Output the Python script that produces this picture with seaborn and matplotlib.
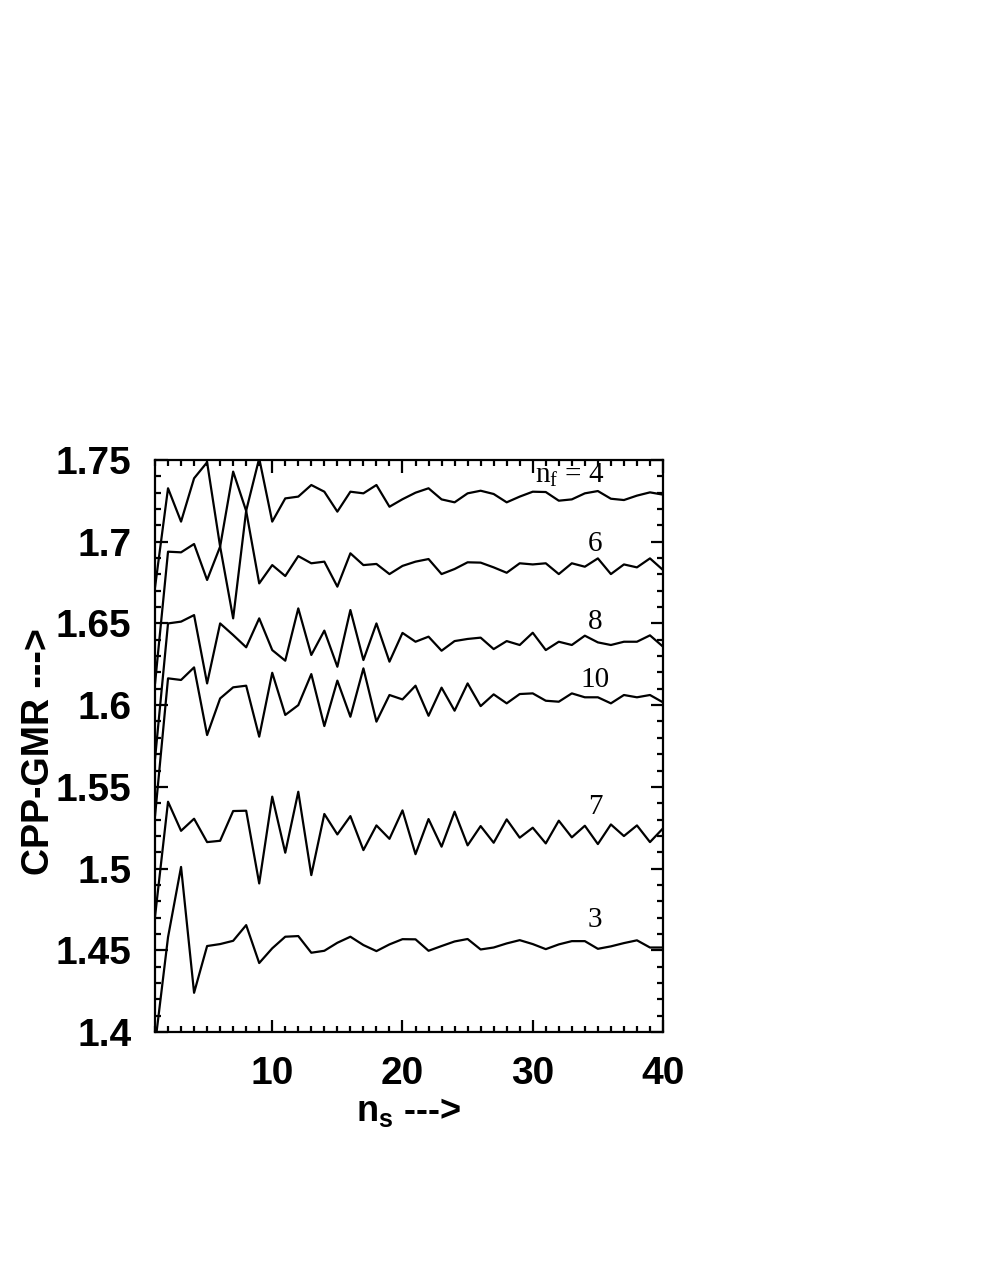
# -*- coding: utf-8 -*-

import matplotlib
matplotlib.use('Agg')
import matplotlib.pyplot as plt
from matplotlib.ticker import MultipleLocator, FormatStrFormatter
import seaborn as sn
import pandas as pd
import numpy as np

ns = list(range(1, 41))

gmr_nf4 = [1.672, 1.7327, 1.7123, 1.7388, 1.7486, 1.697, 1.6531, 1.719, 1.751, 1.7123,
           1.7265, 1.7276, 1.7347, 1.7306, 1.7184, 1.7306, 1.7296, 1.7347, 1.7214, 1.726,
           1.73, 1.7327, 1.7259, 1.7241, 1.7296, 1.7312, 1.7292, 1.7241, 1.7276, 1.7306,
           1.7304, 1.7251, 1.7259, 1.7296, 1.731, 1.7263, 1.7255, 1.7282, 1.7302, 1.7288]
gmr_nf6 = [1.613, 1.6939, 1.6935, 1.6986, 1.6766, 1.697, 1.7429, 1.7188, 1.6745, 1.6857,
           1.679, 1.6912, 1.6868, 1.6878, 1.6725, 1.6929, 1.6857, 1.6864, 1.6802, 1.6852,
           1.6878, 1.6894, 1.6802, 1.6833, 1.6874, 1.6872, 1.6843, 1.681, 1.6868, 1.6861,
           1.6868, 1.6802, 1.6868, 1.6847, 1.6898, 1.6802, 1.6861, 1.6843, 1.6898, 1.6827]
gmr_nf8 = [1.567, 1.65, 1.6511, 1.6551, 1.6133, 1.65, 1.6429, 1.6354, 1.6531, 1.6337,
           1.6272, 1.6592, 1.6307, 1.6456, 1.6235, 1.6582, 1.6276, 1.65, 1.6266, 1.6442,
           1.6388, 1.6419, 1.6333, 1.6392, 1.6405, 1.6413, 1.6343, 1.6392, 1.6368, 1.6443,
           1.6337, 1.6388, 1.6368, 1.6425, 1.6384, 1.6368, 1.6388, 1.6388, 1.6427, 1.6358]
gmr_nf10 = [1.532, 1.6164, 1.6154, 1.6231, 1.5817, 1.6041, 1.6109, 1.6119, 1.5807, 1.6198,
            1.594, 1.60, 1.619, 1.5872, 1.615, 1.5929, 1.6225, 1.5899, 1.6062, 1.6035,
            1.6119, 1.5935, 1.6107, 1.5966, 1.6133, 1.5994, 1.6066, 1.6011, 1.6068, 1.6072,
            1.6027, 1.6021, 1.6072, 1.6048, 1.6048, 1.6011, 1.6062, 1.6048, 1.6062, 1.6017]
gmr_nf7 = [1.4705, 1.5409, 1.5231, 1.5305, 1.5162, 1.517, 1.5352, 1.5354, 1.4909, 1.544,
           1.5097, 1.547, 1.496, 1.5334, 1.5209, 1.5321, 1.5113, 1.5264, 1.5182, 1.5356,
           1.5088, 1.5303, 1.5134, 1.5348, 1.5142, 1.526, 1.5158, 1.5301, 1.5189, 1.525,
           1.5154, 1.5293, 1.5191, 1.5262, 1.515, 1.527, 1.5199, 1.5264, 1.5162, 1.5246]
gmr_nf3 = [1.392, 1.458, 1.501, 1.424, 1.4526, 1.4538, 1.4558, 1.4654, 1.4422, 1.4512,
           1.4583, 1.4587, 1.4485, 1.4497, 1.4546, 1.4583, 1.4532, 1.4495, 1.4536, 1.4568,
           1.4567, 1.4497, 1.4526, 1.4554, 1.4569, 1.4505, 1.4517, 1.4542, 1.4562, 1.4538,
           1.4507, 1.4536, 1.4556, 1.4556, 1.4509, 1.4524, 1.4544, 1.4561, 1.4517, 1.4517]

curve_labels = ['$\\mathregular{n_f}$ = 4', '6', '8', '10', '7', '3']
curves = [gmr_nf4, gmr_nf6, gmr_nf8, gmr_nf10, gmr_nf7, gmr_nf3]
label_pos = [(32.8, 1.7408), (34.8, 1.6984), (34.8, 1.651),
             (34.8, 1.6154), (34.8, 1.5378), (34.8, 1.4685)]

sn.set_style('ticks', rc={'axes.edgecolor': 'black', 'text.color': 'black',
                          'axes.labelcolor': 'black', 'xtick.color': 'black',
                          'ytick.color': 'black'})
plt.rcParams['font.family'] = ['Liberation Sans', 'DejaVu Sans']
plt.rcParams['font.weight'] = 'bold'
plt.rcParams['mathtext.default'] = 'regular'
plt.rcParams['axes.linewidth'] = 1.6

fig = plt.figure(figsize=(9.81, 12.69), dpi=100)
ax = fig.add_axes([155/981, 1 - 1032/1269, 508/981, 572/1269])

for vals in curves:
    sn.lineplot(x=ns, y=vals, color='black', linewidth=1.6, ax=ax)

for lab, (x, y) in zip(curve_labels, label_pos):
    ax.text(x, y, lab, ha='center', va='center', fontsize=21, color='black',
            family=['Liberation Serif', 'DejaVu Serif'], weight='normal')

ax.set_xlim(1, 40)
ax.set_ylim(1.4, 1.75)
ax.xaxis.set_major_locator(MultipleLocator(10))
ax.xaxis.set_minor_locator(MultipleLocator(1))
ax.yaxis.set_major_locator(MultipleLocator(0.05))
ax.yaxis.set_minor_locator(MultipleLocator(0.01))
ax.yaxis.set_major_formatter(FormatStrFormatter('%g'))
ax.tick_params(which='both', direction='in', top=True, right=True,
               width=1.6, color='black', labelcolor='black')
ax.tick_params(which='major', length=9, labelsize=28, pad=17)
ax.tick_params(which='minor', length=4.5)
for lab in ax.get_xticklabels() + ax.get_yticklabels():
    lab.set_fontweight('bold')

ax.set_xlabel('n$_s$ --->', fontsize=26, fontweight='bold', labelpad=2)
ax.set_ylabel('CPP-GMR --->', fontsize=27, fontweight='bold')
ax.yaxis.set_label_coords(-0.193, 0.49)

fig.savefig('out.png', dpi=100)
